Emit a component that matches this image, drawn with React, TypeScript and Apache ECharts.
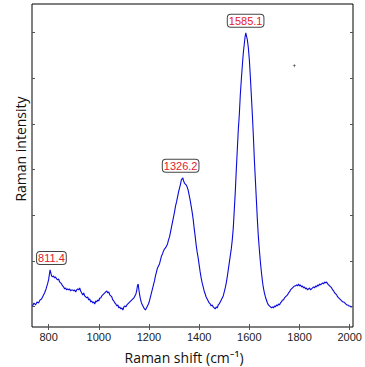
import React, { useEffect, useRef } from "react";
import * as echarts from "echarts";

// Raman spectrum: [Raman shift (cm^-1), intensity (a.u.)]
const spectrum: [number, number][] = [
  [736, 210], [742, 240], [748, 220], [754, 250], [760, 240], [766, 270], [772, 280], [778, 310],
  [784, 340], [790, 380], [796, 430], [800, 470], [803, 520], [806, 570], [809, 540], [812, 510],
  [816, 500], [820, 510], [824, 490], [828, 500], [832, 480], [836, 470], [840, 480], [844, 450],
  [848, 440], [852, 430], [856, 410], [860, 400], [864, 380], [868, 390], [872, 370], [876, 380],
  [880, 370], [884, 380], [888, 360], [892, 370], [896, 370], [900, 360], [904, 370], [908, 350],
  [912, 370], [916, 380], [920, 370], [924, 390], [928, 360], [932, 340], [936, 320], [940, 340],
  [944, 310], [948, 300], [952, 290], [956, 300], [960, 270], [964, 280], [968, 250], [972, 260],
  [976, 240], [980, 250], [984, 230], [988, 260], [992, 250], [996, 270], [1000, 260], [1004, 290],
  [1008, 290], [1012, 310], [1016, 320], [1020, 330], [1024, 340], [1028, 350], [1032, 360], [1036, 340],
  [1040, 350], [1044, 320], [1048, 310], [1052, 300], [1056, 270], [1060, 260], [1064, 240], [1068, 230],
  [1072, 210], [1076, 220], [1080, 190], [1084, 200], [1088, 180], [1092, 190], [1096, 170], [1100, 200],
  [1104, 210], [1108, 200], [1112, 220], [1116, 230], [1120, 240], [1124, 250], [1128, 260], [1132, 270],
  [1136, 280], [1140, 290], [1144, 310], [1148, 330], [1151, 360], [1154, 410], [1157, 430], [1160, 370],
  [1163, 320], [1166, 280], [1170, 240], [1174, 220], [1178, 200], [1182, 180], [1186, 170], [1190, 190],
  [1194, 210], [1198, 230], [1202, 260], [1206, 300], [1210, 340], [1214, 380], [1218, 420], [1222, 460],
  [1226, 510], [1230, 550], [1234, 590], [1238, 610], [1242, 630], [1246, 670], [1250, 710], [1254, 730],
  [1258, 760], [1262, 780], [1266, 790], [1270, 810], [1274, 830], [1278, 870], [1282, 900], [1286, 950],
  [1290, 1000], [1294, 1050], [1298, 1100], [1302, 1150], [1306, 1210], [1310, 1250], [1314, 1300], [1318, 1350],
  [1322, 1390], [1326, 1430], [1329, 1470], [1332, 1480], [1335, 1490], [1338, 1460], [1341, 1440], [1344, 1430],
  [1348, 1420], [1352, 1400], [1356, 1370], [1360, 1320], [1364, 1270], [1368, 1210], [1372, 1150], [1376, 1080],
  [1380, 990], [1384, 910], [1388, 820], [1392, 750], [1396, 690], [1400, 620], [1404, 550], [1408, 490],
  [1412, 440], [1416, 400], [1420, 360], [1424, 330], [1428, 300], [1432, 280], [1436, 260], [1440, 240],
  [1444, 230], [1448, 210], [1452, 220], [1456, 200], [1460, 190], [1464, 180], [1468, 200], [1472, 190],
  [1476, 220], [1480, 230], [1484, 250], [1488, 270], [1492, 290], [1496, 310], [1500, 350], [1504, 390],
  [1508, 440], [1512, 500], [1516, 570], [1520, 640], [1524, 710], [1528, 780], [1532, 870], [1536, 990],
  [1540, 1170], [1544, 1350], [1548, 1570], [1552, 1770], [1556, 1970], [1560, 2120], [1564, 2320], [1568, 2470],
  [1572, 2610], [1576, 2740], [1580, 2830], [1583, 2900], [1586, 2940], [1589, 2900], [1592, 2870], [1596, 2790],
  [1600, 2670], [1604, 2500], [1608, 2310], [1612, 2120], [1616, 1910], [1620, 1670], [1624, 1470], [1628, 1270],
  [1632, 1070], [1636, 900], [1640, 770], [1644, 650], [1648, 550], [1652, 460], [1656, 390], [1660, 340],
  [1664, 300], [1668, 270], [1672, 240], [1676, 220], [1680, 210], [1684, 200], [1688, 190], [1692, 200],
  [1696, 190], [1700, 210], [1704, 200], [1708, 220], [1712, 210], [1716, 230], [1720, 220], [1724, 240],
  [1728, 250], [1732, 270], [1736, 270], [1740, 290], [1744, 300], [1748, 310], [1752, 320], [1756, 340],
  [1760, 350], [1764, 370], [1768, 380], [1772, 390], [1776, 400], [1780, 410], [1784, 410], [1788, 420],
  [1792, 410], [1796, 430], [1800, 410], [1804, 420], [1808, 400], [1812, 410], [1816, 390], [1820, 400],
  [1824, 380], [1828, 390], [1832, 370], [1836, 380], [1840, 390], [1844, 370], [1848, 380], [1852, 390],
  [1856, 400], [1860, 390], [1864, 410], [1868, 400], [1872, 420], [1876, 410], [1880, 430], [1884, 420],
  [1888, 430], [1892, 440], [1896, 430], [1900, 450], [1904, 440], [1908, 450], [1912, 430], [1916, 420],
  [1920, 410], [1924, 400], [1928, 390], [1932, 370], [1936, 360], [1940, 340], [1944, 330], [1948, 320],
  [1952, 300], [1956, 290], [1960, 280], [1964, 270], [1968, 260], [1972, 250], [1976, 250], [1980, 240],
  [1984, 230], [1988, 220], [1992, 220], [1996, 210], [2000, 210], [2004, 200], [2008, 200],
];

// Peak annotations: [position, intensity at peak, label]
const peakPositions = [811.4, 1326.2, 1585.1];
const peakIntensities = [570, 1490, 2940];
const peakLabels = ["811.4", "1326.2", "1585.1"];

// Stray marker in the plot
const strayMarker: [number, number][] = [[1779, 2610]];

const xTicks = [800, 1000, 1200, 1400, 1600, 1800, 2000];
const yTicks = [204, 660, 1116, 1572, 2028, 2484, 2940];
const xRange = [734, 2013];
const yRange = [0, 3227];

const xTitle = "Raman shift (cm\u207B\u00B9)";
const yTitle = "Raman intensity";

export default function App() {
  const ref = useRef<HTMLDivElement>(null);
  useEffect(() => {
    if (!ref.current) return;
    const chart = echarts.init(ref.current, undefined, { renderer: "svg" });
    const tickStyle = { show: true, inside: true, length: 3, lineStyle: { color: "#555", width: 1 } };
    const titleFont = "'Open Sans', 'Noto Sans', sans-serif";
    chart.setOption({
      animation: false,
      backgroundColor: "#fff",
      grid: {
        left: 32, right: 12, top: 4, bottom: 40,
        show: true, borderColor: "#000", borderWidth: 1, backgroundColor: "transparent",
      },
      xAxis: [
        {
          type: "value", position: "bottom", min: xRange[0], max: xRange[1],
          axisLine: { show: false },
          axisTick: { ...tickStyle, customValues: xTicks },
          axisLabel: {
            customValues: xTicks, margin: 4, fontSize: 11, color: "#222",
            fontFamily: "'Liberation Sans', Arial, sans-serif",
            formatter: (v: number) => String(v),
          },
          splitLine: { show: false },
        },
        {
          type: "value", position: "top", min: xRange[0], max: xRange[1],
          axisLine: { show: false },
          axisTick: { ...tickStyle, customValues: xTicks },
          axisLabel: { show: false },
          splitLine: { show: false },
        },
      ],
      yAxis: [
        {
          type: "value", position: "left", min: yRange[0], max: yRange[1],
          axisLine: { show: false },
          axisTick: { ...tickStyle, customValues: yTicks },
          axisLabel: { show: false },
          splitLine: { show: false },
        },
        {
          type: "value", position: "right", min: yRange[0], max: yRange[1],
          axisLine: { show: false },
          axisTick: { ...tickStyle, customValues: yTicks },
          axisLabel: { show: false },
          splitLine: { show: false },
        },
      ],
      series: [
        {
          type: "line",
          data: spectrum,
          xAxisIndex: 0, yAxisIndex: 0,
          showSymbol: false, symbol: "none",
          lineStyle: { color: "#0a0ad8", width: 1.1 },
          markPoint: {
            symbol: "circle", symbolSize: 0,
            data: peakPositions.map((p, i) => ({ coord: [p, peakIntensities[i]], value: peakLabels[i] })),
            label: {
              show: true, position: "top", distance: 6,
              formatter: (d: any) => d.value,
              color: "#e4202c", fontSize: 11, fontFamily: "'Liberation Sans', Arial, sans-serif",
              backgroundColor: "#fff", borderColor: "#444", borderWidth: 1, borderRadius: 3,
              padding: [1, 1, 0, 1], lineHeight: 11,
            },
          },
        },
        {
          type: "scatter",
          data: strayMarker,
          xAxisIndex: 0, yAxisIndex: 0,
          symbol: "path://M0,2H5V3H0ZM2,0H3V5H2Z",
          symbolSize: 3,
          itemStyle: { color: "#000" },
        },
      ],
      graphic: [
        {
          type: "text", x: 184, y: 357,
          style: { text: xTitle, font: `14px ${titleFont}`, fill: "#111", align: "center", verticalAlign: "middle" },
        },
        {
          type: "text", x: 20, y: 149, rotation: Math.PI / 2,
          style: { text: yTitle, font: `14px ${titleFont}`, fill: "#111", align: "center", verticalAlign: "middle" },
        },
      ],
    });
    return () => chart.dispose();
  }, []);
  return (
    <div
      ref={ref}
      style={{ position: "absolute", left: 0, top: 0, width: 365, height: 367, background: "#fff" }}
    />
  );
}
